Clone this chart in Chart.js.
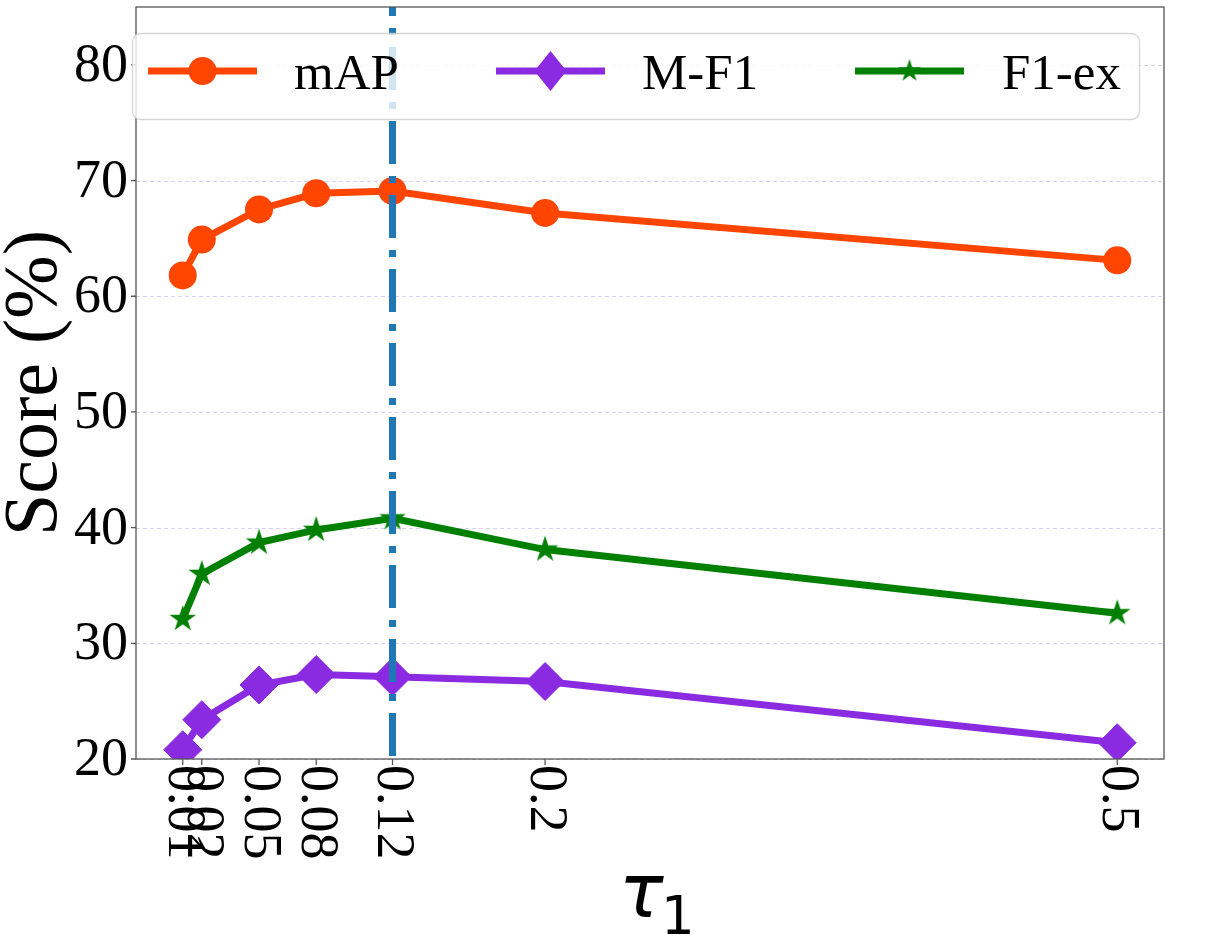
<!DOCTYPE html>
<html>
<head>
<meta charset="utf-8">
<script src="https://cdn.jsdelivr.net/npm/chart.js@4.4.1/dist/chart.umd.min.js"></script>
<style>
  html, body { margin: 0; padding: 0; background: #fff; }
  canvas { display: block; }
</style>
</head>
<body>
<canvas id="chart" width="1211" height="949"></canvas>
<script>
// tau_1 values on the x axis and the scores
const tauValues = [0.01, 0.02, 0.05, 0.08, 0.12, 0.2, 0.5];
const tauLabels = ['0.01', '0.02', '0.05', '0.08', '0.12', '0.2', '0.5'];
const mapScores = [61.8, 64.9, 67.5, 68.9, 69.1, 67.2, 63.1];
const macroF1Scores = [20.8, 23.4, 26.4, 27.3, 27.1, 26.7, 21.4];
const f1exScores = [32.1, 36.0, 38.7, 39.8, 40.8, 38.1, 32.6];
const yTicks = [20, 30, 40, 50, 60, 70, 80];
const bestTau = 0.12;
const yRange = [20, 85];
const xRange = [-0.0145, 0.5245];

const ORANGE = '#ff4500';
const PURPLE = '#8a2be2';
const GREEN = '#008000';
const BLUE = '#1f77b4';
const SPINE = '#555555';
const SERIF = '"Liberation Serif", "Times New Roman", serif';

// filled five point star, like the matplotlib '*' marker
function makeStar(outer, color) {
    const inner = outer * 0.382;
    const size = Math.ceil(outer * 2 + 2);
    const c = document.createElement('canvas');
    c.width = size;
    c.height = size;
    const g = c.getContext('2d');
    g.translate(size / 2, size / 2);
    g.beginPath();
    for (let i = 0; i < 10; i++) {
        const r = i % 2 ? inner : outer;
        const a = -Math.PI / 2 + i * Math.PI / 5;
        g.lineTo(Math.cos(a) * r, Math.sin(a) * r);
    }
    g.closePath();
    g.fillStyle = color;
    g.fill();
    return c;
}
const starPoint = makeStar(14, GREEN);
const starLegend = makeStar(12, GREEN);

function pts(values) {
    return tauValues.map((t, i) => ({ x: t, y: values[i] }));
}

// grid, frame, ticks, titles and legend drawn around the chart area
const decor = {
    id: 'decor',
    beforeDatasetsDraw(chart) {
        const { ctx, chartArea: a, scales: { y } } = chart;
        ctx.save();
        ctx.strokeStyle = 'rgba(160,160,225,0.45)';
        ctx.lineWidth = 1;
        ctx.setLineDash([4, 3]);
        yTicks.forEach(v => {
            const py = Math.round(y.getPixelForValue(v)) + 0.5;
            ctx.beginPath();
            ctx.moveTo(a.left, py);
            ctx.lineTo(a.right, py);
            ctx.stroke();
        });
        ctx.restore();
    },
    afterDatasetsDraw(chart) {
        const { ctx, chartArea: a, scales: { x, y } } = chart;
        ctx.save();

        // frame
        ctx.strokeStyle = SPINE;
        ctx.lineWidth = 1.3;
        ctx.strokeRect(a.left, a.top, a.right - a.left, a.bottom - a.top);

        // tick marks
        ctx.beginPath();
        yTicks.forEach(v => {
            const py = y.getPixelForValue(v);
            ctx.moveTo(a.left - 5, py);
            ctx.lineTo(a.left, py);
        });
        tauValues.forEach(v => {
            const px = x.getPixelForValue(v);
            ctx.moveTo(px, a.bottom);
            ctx.lineTo(px, a.bottom + 6);
        });
        ctx.stroke();

        // y tick labels
        ctx.fillStyle = '#000';
        ctx.font = '54px ' + SERIF;
        ctx.textAlign = 'right';
        ctx.textBaseline = 'middle';
        yTicks.forEach(v => {
            ctx.fillText(String(v), a.left - 8, y.getPixelForValue(v) + 2);
        });

        // x tick labels, turned a quarter clockwise
        ctx.textAlign = 'left';
        tauValues.forEach((v, i) => {
            ctx.save();
            ctx.translate(x.getPixelForValue(v), a.bottom + 6);
            ctx.rotate(Math.PI / 2);
            ctx.fillText(tauLabels[i], 0, 0);
            ctx.restore();
        });

        // y axis title
        ctx.save();
        ctx.font = '76px ' + SERIF;
        ctx.textAlign = 'center';
        ctx.textBaseline = 'alphabetic';
        ctx.translate(56, (a.top + a.bottom) / 2);
        ctx.rotate(-Math.PI / 2);
        ctx.fillText('Score (%)', 0, 0);
        ctx.restore();

        // x axis title: tau with subscript 1
        ctx.textAlign = 'left';
        ctx.textBaseline = 'alphabetic';
        ctx.font = 'italic 74px "DejaVu Sans"';
        ctx.fillText('τ', 619, 917);
        ctx.font = '53px "DejaVu Sans"';
        ctx.fillText('1', 661, 934);

        // legend
        const lx = 132, ly = 33, lw = 1007, lh = 86;
        ctx.beginPath();
        ctx.roundRect(lx + 0.5, ly + 0.5, lw, lh, 8);
        ctx.fillStyle = 'rgba(255,255,255,0.8)';
        ctx.fill();
        ctx.strokeStyle = 'rgba(204,204,204,0.8)';
        ctx.lineWidth = 1.3;
        ctx.stroke();

        const entries = [
            { label: 'mAP', color: ORANGE, marker: 'circle', x0: 148, tx: 294 },
            { label: 'M-F1', color: PURPLE, marker: 'diamond', x0: 496, tx: 642 },
            { label: 'F1-ex', color: GREEN, marker: 'star', x0: 855, tx: 1002 }
        ];
        const midY = 71;
        entries.forEach(e => {
            ctx.strokeStyle = e.color;
            ctx.lineWidth = 7;
            ctx.beginPath();
            ctx.moveTo(e.x0, midY);
            ctx.lineTo(e.x0 + 109, midY);
            ctx.stroke();
            const cx = e.x0 + 54.5;
            ctx.fillStyle = e.color;
            if (e.marker === 'circle') {
                ctx.beginPath();
                ctx.arc(cx, midY, 14, 0, Math.PI * 2);
                ctx.fill();
            } else if (e.marker === 'diamond') {
                ctx.beginPath();
                ctx.moveTo(cx, midY - 20);
                ctx.lineTo(cx + 16, midY);
                ctx.lineTo(cx, midY + 20);
                ctx.lineTo(cx - 16, midY);
                ctx.closePath();
                ctx.fill();
            } else {
                ctx.drawImage(starLegend, cx - starLegend.width / 2, midY - starLegend.height / 2);
            }
            ctx.fillStyle = '#000';
            ctx.font = '51px ' + SERIF;
            ctx.fillText(e.label, e.tx, 89);
        });

        ctx.restore();
    }
};

function drawChart() {
    const ctx = document.getElementById('chart').getContext('2d');
    new Chart(ctx, {
        type: 'line',
        data: {
            datasets: [
                {
                    label: 'best',
                    data: [{ x: bestTau, y: yRange[0] }, { x: bestTau, y: yRange[1] }],
                    borderColor: BLUE,
                    borderWidth: 7,
                    borderDash: [43, 12, 7, 12],
                    borderDashOffset: 71,
                    pointRadius: 0,
                    order: 0
                },
                {
                    label: 'F1-ex',
                    data: pts(f1exScores),
                    borderColor: GREEN,
                    borderWidth: 7,
                    pointStyle: starPoint,
                    pointRadius: 14,
                    order: 1
                },
                {
                    label: 'M-F1',
                    data: pts(macroF1Scores),
                    borderColor: PURPLE,
                    borderWidth: 7,
                    pointStyle: 'rectRot',
                    pointRadius: 19,
                    pointBackgroundColor: PURPLE,
                    pointBorderColor: PURPLE,
                    pointBorderWidth: 1,
                    order: 2
                },
                {
                    label: 'mAP',
                    data: pts(mapScores),
                    borderColor: ORANGE,
                    borderWidth: 7,
                    pointStyle: 'circle',
                    pointRadius: 14,
                    pointBackgroundColor: ORANGE,
                    pointBorderColor: ORANGE,
                    pointBorderWidth: 0,
                    order: 3
                }
            ]
        },
        options: {
            responsive: false,
            animation: false,
            devicePixelRatio: 1,
            layout: { autoPadding: false, padding: { top: 7, right: 47, left: 0, bottom: 0 } },
            plugins: {
                legend: { display: false },
                tooltip: { enabled: false }
            },
            scales: {
                x: {
                    type: 'linear',
                    min: xRange[0],
                    max: xRange[1],
                    grid: { display: false },
                    border: { display: false },
                    ticks: { display: false },
                    afterFit(scale) { scale.height = 190; }
                },
                y: {
                    min: yRange[0],
                    max: yRange[1],
                    grid: { display: false },
                    border: { display: false },
                    ticks: { display: false },
                    afterFit(scale) { scale.width = 136; }
                }
            }
        },
        plugins: [decor]
    });
}

Promise.all([
    document.fonts.load('54px "Liberation Serif"'),
    document.fonts.load('italic 74px "DejaVu Sans"'),
    document.fonts.load('53px "DejaVu Sans"')
]).then(drawChart, drawChart);
</script>
</body>
</html>
